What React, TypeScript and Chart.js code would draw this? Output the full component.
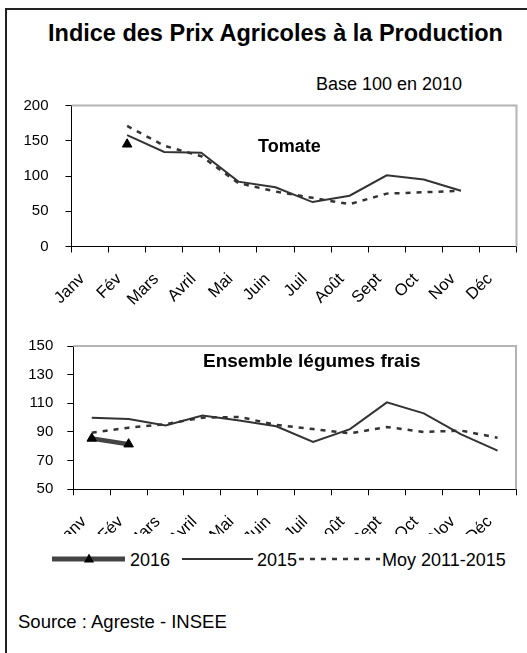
import React, { useEffect, useRef } from 'react';
import { Chart, registerables } from 'chart.js';

Chart.register(...registerables);

const FONT = "'Liberation Sans', Arial, Helvetica, sans-serif";

// ---- data ----
const months = ['Janv', 'Fév', 'Mars', 'Avril', 'Mai', 'Juin', 'Juil', 'Août', 'Sept', 'Oct', 'Nov', 'Déc'];

const tomate2016 = [null, 145, null, null, null, null, null, null, null, null, null, null];
const tomate2015 = [null, 158, 134, 133, 92, 84, 63, 72, 101, 95, 79, null];
const tomateMoy = [null, 171, 143, 128, 90, 78, 69, 60, 75, 77, 79, null];
const tomateYTicks = [0, 50, 100, 150, 200];

const legumes2016 = [85.5, 81.5, null, null, null, null, null, null, null, null, null, null];
const legumes2015 = [100, 99, 94.5, 101.5, 98, 94, 83, 92, 110.7, 103, 88.5, 77];
const legumesMoy = [89.5, 93, 95.5, 100, 100.5, 95, 92, 89, 93.5, 90, 91, 86];
const legumesYTicks = [50, 70, 90, 110, 130, 150];

const seriesNames = ['2016', '2015', 'Moy 2011-2015'];

const framePlugin = {
  id: 'frame',
  beforeDatasetsDraw(chart: any) {
    const { ctx, chartArea } = chart;
    const { left, top, right, bottom } = chartArea;
    ctx.save();
    ctx.strokeStyle = '#b4b4b4';
    ctx.lineWidth = 2;
    ctx.beginPath();
    ctx.moveTo(left, top);
    ctx.lineTo(right, top);
    ctx.lineTo(right, bottom);
    ctx.stroke();
    ctx.restore();
  },
};

type BoxProps = {
  top: number;
  height: number;
  clipHeight?: number;
  padTop: number;
  padRight: number;
  yWidth: number;
  xHeight: number;
  yPad: number;
  xPad: number;
  ticks: number[];
  d2016: (number | null)[];
  d2015: (number | null)[];
  dMoy: (number | null)[];
  thick2016: boolean;
};

function ChartBox(p: BoxProps) {
  const ref = useRef<HTMLCanvasElement | null>(null);
  useEffect(() => {
    if (!ref.current) return;
    const min = p.ticks[0];
    const max = p.ticks[p.ticks.length - 1];
    const step = p.ticks[1] - p.ticks[0];
    const yFont = { family: FONT, size: 15 };
    const xFont = { family: FONT, size: 16.5 };
    const chart = new Chart(ref.current, {
      type: 'line',
      data: {
        labels: months,
        datasets: [
          {
            label: seriesNames[2],
            data: p.dMoy,
            borderColor: '#333333',
            borderWidth: 2.5,
            borderDash: [5, 6],
            pointRadius: 0,
            tension: 0,
          },
          {
            label: seriesNames[1],
            data: p.d2015,
            borderColor: '#333333',
            borderWidth: 2,
            pointRadius: 0,
            tension: 0,
          },
          {
            label: seriesNames[0],
            data: p.d2016,
            borderColor: '#444444',
            borderWidth: p.thick2016 ? 4.5 : 0,
            showLine: p.thick2016,
            pointStyle: 'triangle',
            pointRadius: 5.5,
            pointBackgroundColor: '#000',
            pointBorderColor: '#000',
            pointBorderWidth: 1,
            tension: 0,
          },
        ],
      },
      options: {
        animation: false,
        responsive: false,
        maintainAspectRatio: false,
        devicePixelRatio: 1,
        layout: { padding: { top: p.padTop, right: p.padRight, left: 0, bottom: 0 } },
        plugins: { legend: { display: false }, tooltip: { enabled: false }, title: { display: false } },
        scales: {
          x: {
            type: 'category',
            offset: true,
            grid: { offset: true, drawOnChartArea: false, tickLength: 6, color: '#000', lineWidth: 1 },
            border: { color: '#000', width: 1 },
            ticks: {
              autoSkip: false,
              maxRotation: 45,
              minRotation: 45,
              padding: p.xPad,
              labelOffset: -8,
              color: '#000',
              font: xFont,
            },
            afterFit: (s: any) => {
              s.height = p.xHeight;
              s.paddingLeft = 0;
              s.paddingRight = 0;
              s.paddingTop = 0;
              s.paddingBottom = 0;
            },
          },
          y: {
            type: 'linear',
            min,
            max,
            ticks: { stepSize: step, padding: p.yPad, color: '#000', font: yFont },
            grid: { drawOnChartArea: false, tickLength: 6, color: '#000', lineWidth: 1 },
            border: { color: '#000', width: 1 },
            afterFit: (s: any) => {
              s.width = p.yWidth;
              s.paddingTop = 0;
              s.paddingBottom = 0;
              s.paddingLeft = 0;
              s.paddingRight = 0;
            },
          },
        },
      },
      plugins: [framePlugin],
    } as any);
    return () => chart.destroy();
  }, []);
  return (
    <div
      style={{
        position: 'absolute',
        left: 0,
        top: p.top,
        width: 527,
        height: p.clipHeight ?? p.height,
        overflow: 'hidden',
      }}
    >
      <canvas ref={ref} width={527} height={p.height} style={{ display: 'block', width: 527, height: p.height }} />
    </div>
  );
}

function Txt(props: { left: number; top: number; size: number; bold?: boolean; children: React.ReactNode }) {
  return (
    <div
      style={{
        position: 'absolute',
        left: props.left,
        top: props.top,
        fontSize: props.size,
        lineHeight: `${props.size}px`,
        fontWeight: props.bold ? 'bold' : 'normal',
        fontFamily: FONT,
        color: '#000',
        whiteSpace: 'nowrap',
      }}
    >
      {props.children}
    </div>
  );
}

export default function App() {
  return (
    <div
      style={{
        position: 'absolute',
        left: 0,
        top: 0,
        width: 527,
        height: 653,
        overflow: 'hidden',
        background: '#fff',
      }}
    >
      <div
        style={{
          position: 'absolute',
          left: 5,
          top: 8,
          width: 700,
          height: 800,
          borderLeft: '2px solid #222',
          borderTop: '2px solid #222',
        }}
      />
      <Txt left={48} top={22} size={23.5} bold>
        Indice des Prix Agricoles à la Production
      </Txt>
      <Txt left={316} top={75} size={18}>
        Base 100 en 2010
      </Txt>

      <ChartBox
        top={95}
        height={215}
        padTop={10.5}
        padRight={10.5}
        yWidth={71.5}
        xHeight={63.5}
        yPad={17}
        xPad={17}
        ticks={tomateYTicks}
        d2016={tomate2016}
        d2015={tomate2015}
        dMoy={tomateMoy}
        thick2016={false}
      />
      <Txt left={258} top={136.5} size={18} bold>
        Tomate
      </Txt>

      <ChartBox
        top={335}
        height={220}
        clipHeight={199}
        padTop={11}
        padRight={11}
        yWidth={73.3}
        xHeight={65.7}
        yPad={14}
        xPad={17}
        ticks={legumesYTicks}
        d2016={legumes2016}
        d2015={legumes2015}
        dMoy={legumesMoy}
        thick2016={true}
      />
      <Txt left={203} top={350.5} size={19} bold>
        Ensemble légumes frais
      </Txt>

      <svg
        width={527}
        height={30}
        style={{ position: 'absolute', left: 0, top: 545, overflow: 'visible' }}
      >
        <line x1={52} x2={125} y1={14} y2={14} stroke="#444" strokeWidth={5} />
        <polygon points="89,8.5 84,17.5 94,17.5" fill="#000" />
        <line x1={182} x2={253} y1={14} y2={14} stroke="#333" strokeWidth={2} />
        <line x1={299} x2={380} y1={14} y2={14} stroke="#333" strokeWidth={2.5} strokeDasharray="5 6" />
      </svg>
      <Txt left={130} top={550.5} size={18}>
        {seriesNames[0]}
      </Txt>
      <Txt left={257} top={550.5} size={18}>
        {seriesNames[1]}
      </Txt>
      <Txt left={382} top={550.5} size={18}>
        {seriesNames[2]}
      </Txt>

      <Txt left={18} top={612.5} size={18.5}>
        Source : Agreste - INSEE
      </Txt>
    </div>
  );
}
